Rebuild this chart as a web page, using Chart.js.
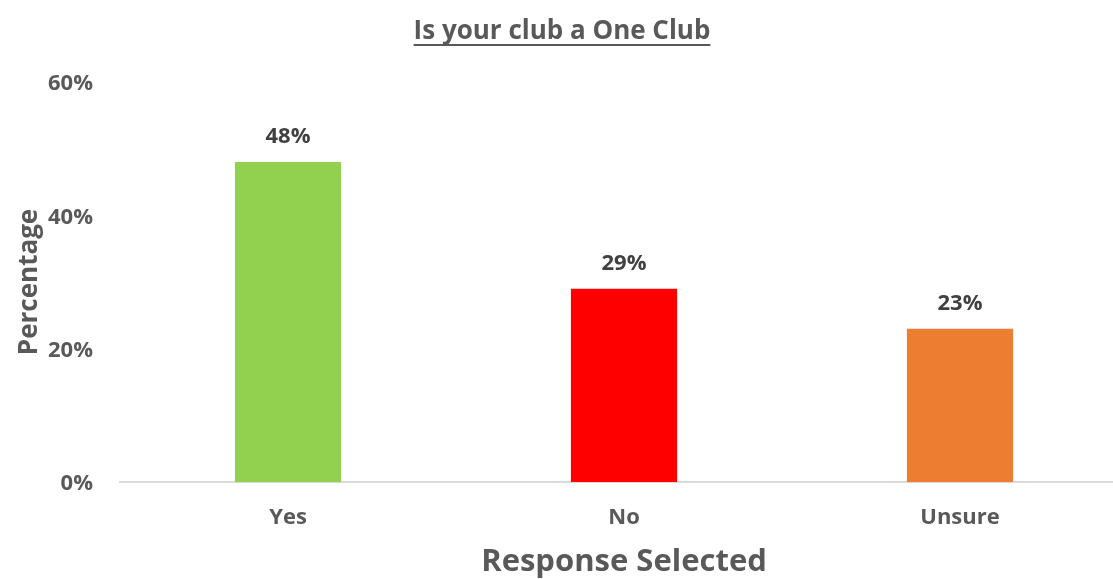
<!DOCTYPE html>
<html>
<head>
<meta charset="utf-8">
<script src="https://cdn.jsdelivr.net/npm/chart.js@4/dist/chart.umd.min.js"></script>
<style>
  html, body { margin: 0; padding: 0; background: #fff; overflow: hidden; }
  #wrap { position: relative; width: 1130px; height: 579px; }
</style>
</head>
<body>
<div id="wrap"><canvas id="chart"></canvas></div>
<script>
var chartTitle = "Is your club a One Club";
var responses = ["Yes", "No", "Unsure"];
var percentages = [48, 29, 23];
var barColors = ["#92D050", "#FF0000", "#ED7D31"];
var yTicks = [0, 20, 40, 60];

var fontFamily = "'Open Sans', sans-serif";

// underlined title across the top
var titlePlugin = {
  id: "underlinedTitle",
  afterDraw: function(chart) {
    var ctx = chart.ctx;
    var cx = 562;
    ctx.save();
    ctx.font = "bold 26px " + fontFamily;
    ctx.fillStyle = "#595959";
    ctx.textAlign = "center";
    ctx.textBaseline = "alphabetic";
    ctx.fillText(chartTitle, cx, 39);
    var w = ctx.measureText(chartTitle).width;
    ctx.fillRect(cx - w / 2, 44, w, 2);
    ctx.restore();
  }
};

// value labels above each bar
var valueLabels = {
  id: "valueLabels",
  afterDatasetsDraw: function(chart) {
    var ctx = chart.ctx;
    var meta = chart.getDatasetMeta(0);
    ctx.save();
    ctx.font = "bold 22px " + fontFamily;
    ctx.fillStyle = "#404040";
    ctx.textAlign = "center";
    ctx.textBaseline = "middle";
    meta.data.forEach(function(bar, i) {
      ctx.fillText(percentages[i] + "%", bar.x, bar.y - 25);
    });
    ctx.restore();
  }
};

var ctx = document.getElementById("chart").getContext("2d");
var chart = new Chart(ctx, {
  type: "bar",
  data: {
    labels: responses,
    datasets: [{
      data: percentages,
      backgroundColor: barColors,
      borderWidth: 0,
      barPercentage: 0.316,
      categoryPercentage: 1
    }]
  },
  options: {
    responsive: true,
    maintainAspectRatio: false,
    animation: false,
    layout: { padding: { top: 82, right: 2, bottom: 0, left: 0 } },
    plugins: {
      legend: { display: false },
      tooltip: { enabled: false },
      title: { display: false }
    },
    scales: {
      x: {
        grid: { display: false, drawTicks: false },
        border: { display: true, color: "#D9D9D9", width: 2 },
        ticks: {
          color: "#595959",
          font: { family: fontFamily, size: 22, weight: "bold" },
          padding: 23
        },
        title: {
          display: true,
          text: "Response Selected",
          color: "#595959",
          font: { family: fontFamily, size: 31, weight: "bold" },
          padding: { top: 0, bottom: -2 }
        },
        afterFit: function(scale) { scale.height = 97; }
      },
      y: {
        min: 0,
        max: 60,
        afterBuildTicks: function(scale) {
          scale.ticks = yTicks.map(function(v) { return { value: v }; });
        },
        grid: { display: false, drawTicks: false },
        border: { display: false },
        ticks: {
          color: "#595959",
          font: { family: fontFamily, size: 22, weight: "bold" },
          padding: 27,
          labelOffset: 2,
          callback: function(v) { return v + "%"; }
        },
        title: {
          display: true,
          text: "Percentage",
          color: "#595959",
          font: { family: fontFamily, size: 26, weight: "bold" },
          padding: { top: 14, bottom: 0 }
        },
        afterFit: function(scale) { scale.width = 120; }
      }
    }
  },
  plugins: [titlePlugin, valueLabels]
});
</script>
</body>
</html>
